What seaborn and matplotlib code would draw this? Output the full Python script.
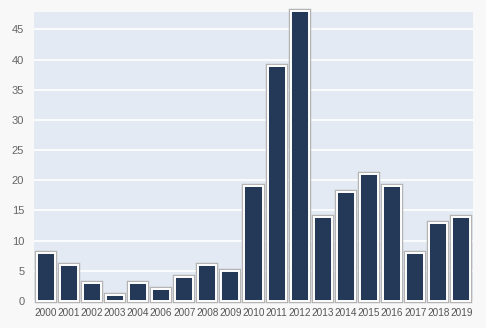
import matplotlib
matplotlib.use("Agg")
import matplotlib.pyplot as plt
import matplotlib.patheffects as pe
import seaborn as sns
import pandas as pd

years = ["2000", "2001", "2002", "2003", "2004", "2006", "2007", "2008", "2009", "2010",
         "2011", "2012", "2013", "2014", "2015", "2016", "2017", "2018", "2019"]
counts = [8, 6, 3, 1, 3, 2, 4, 6, 5, 19, 39, 48, 14, 18, 21, 19, 8, 13, 14]
y_ticks = [0, 5, 10, 15, 20, 25, 30, 35, 40, 45]

df = pd.DataFrame({"year": years, "count": counts})

sns.set_theme(style="darkgrid")
plt.rcParams["font.family"] = ["Liberation Sans", "DejaVu Sans"]

fig = plt.figure(figsize=(4.86, 3.28), dpi=100, facecolor="#f8f8f8")
ax = fig.add_axes([34 / 486, 1 - 301 / 328, 439 / 486, 289 / 328])
ax.set_facecolor("#e4eaf3")

sns.barplot(data=df, x="year", y="count", color="#243858", saturation=1,
            width=0.78, edgecolor="white", linewidth=1.4, ax=ax)
for bar in ax.patches:
    bar.set_clip_on(False)
    bar.set_path_effects([pe.Stroke(linewidth=3.2, foreground="#b4b4b4"), pe.Normal()])

ax.set_ylim(0, 47.9)
ax.set_xlim(-0.5, len(years) - 0.5)
ax.set_yticks(y_ticks)
ax.grid(axis="y", color="white", linewidth=1.2)
ax.grid(axis="x", visible=False)
ax.set_axisbelow(True)
for s in ax.spines.values():
    s.set_visible(False)

ax.set_xlabel("")
ax.set_ylabel("")
ax.tick_params(axis="y", length=3, color="white", width=1.2, pad=4,
               labelsize=8, labelcolor="#666666")
ax.tick_params(axis="x", length=0, pad=5, labelsize=7.2, labelcolor="#555555")

fig.savefig("out.png", dpi=100, facecolor=fig.get_facecolor())
